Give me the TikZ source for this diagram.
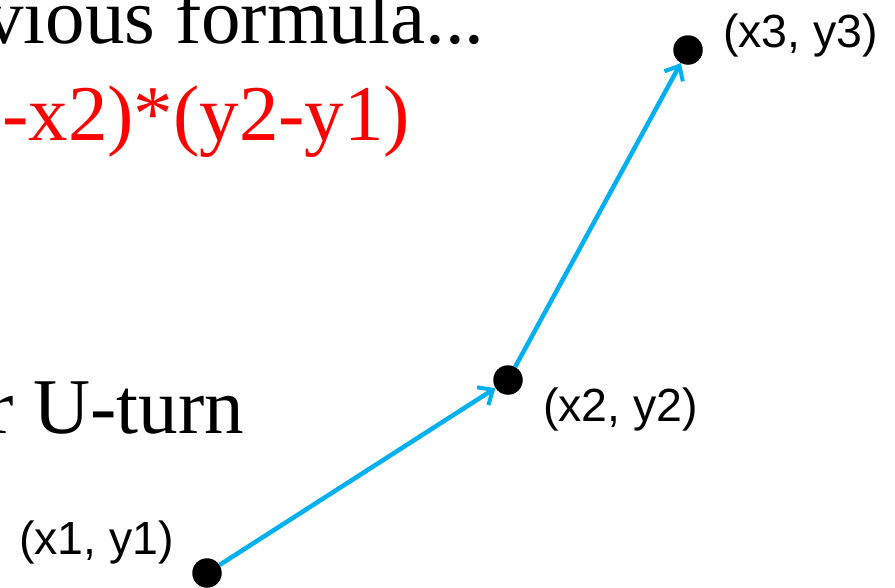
\documentclass[tikz,border=0pt]{standalone}
\usepackage{fontspec}
\setmainfont{Liberation Serif}
\newfontfamily\labelfont{Liberation Sans}
\usetikzlibrary{arrows.meta}
\definecolor{arrowcyan}{RGB}{0,176,240}
\definecolor{formred}{RGB}{255,0,0}
\tikzset{
  bigtext/.style={anchor=base west, inner sep=0pt, font=\fontsize{79}{90}\selectfont},
  ptlabel/.style={anchor=base west, inner sep=0pt, font=\labelfont\fontsize{46.5}{52}\selectfont},
  ptdot/.style={circle, fill=black, inner sep=0pt, minimum size=29.5pt},
  linkarrow/.style={draw=arrowcyan, line width=4.5pt, -{Straight Barb[length=12pt,width=21pt,line width=4pt]}}
}
\begin{document}
\begin{tikzpicture}[x=1pt,y=-1pt]
\useasboundingbox (0,0) rectangle (895,587);
\clip (0,0) rectangle (895,587);
% texts
\node[bigtext] (t1) at (-16,43) {vious formula...};
\node[bigtext, text=formred] (t2) at (2,140) {-x2)*(y2-y1)};
\node[bigtext] (t3) at (-13,433) {r U-turn};
% points
\node[ptdot] (p1) at (207,573) {};
\node[ptdot] (p2) at (508,380) {};
\node[ptdot] (p3) at (688,50) {};
% labels
\node[ptlabel] (l1) at (19,554) {(x1, y1)};
\node[ptlabel] (l2) at (543,421) {(x2, y2)};
\node[ptlabel] (l3) at (723,47) {(x3, y3)};
% arrows
\draw[linkarrow] (p1) -- (p2);
\draw[linkarrow] (p2) -- (p3);
\end{tikzpicture}
\end{document}
